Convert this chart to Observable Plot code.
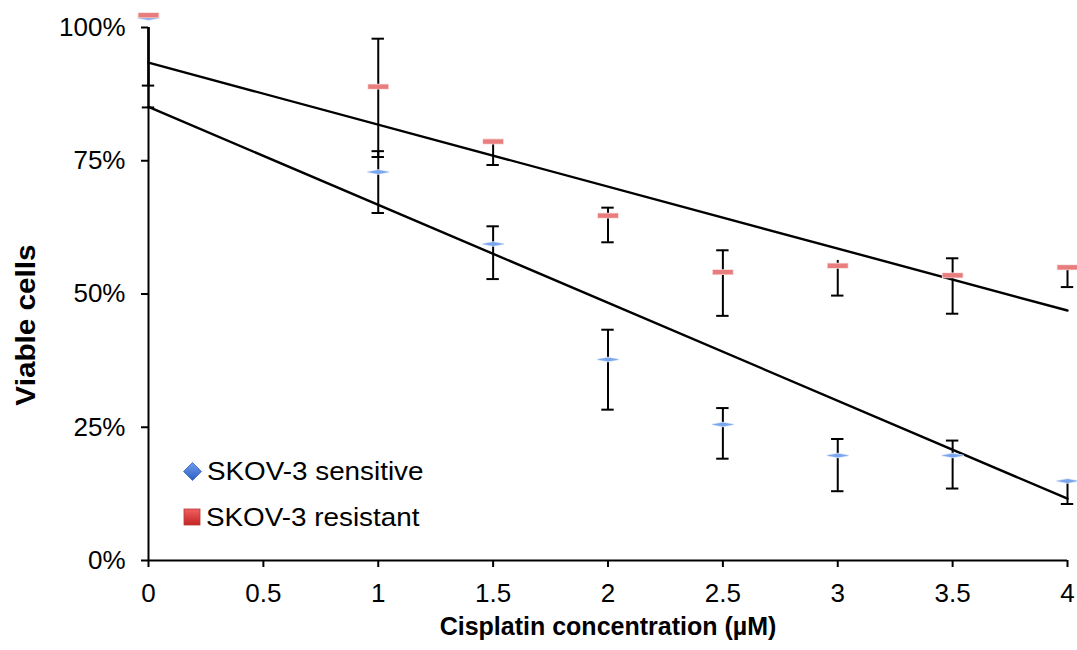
<!DOCTYPE html>
<html>
<head>
<meta charset="utf-8">
<script src="https://cdn.jsdelivr.net/npm/d3@7"></script>
<script src="https://cdn.jsdelivr.net/npm/@observablehq/plot@0.6"></script>
<style>
  body { margin: 0; background: #fff; }
  #wrap { position: relative; width: 1077px; height: 650px; font-family: "Liberation Sans", Arial, sans-serif; }
  #legend { position: absolute; left: 183px; top: 448px; font-size: 26px; color: #000; }
  #legend .row { display: flex; align-items: center; height: 46px; }
  #legend svg { margin-right: 5px; }
  #legend span { display: inline-block; transform: scaleX(1.07); transform-origin: left center; }
  #ylab { position: absolute; left: 26px; top: 325px; transform: translate(-50%, -50%) rotate(-90deg) scale(1.1, 1); font-weight: bold; font-size: 27px; white-space: nowrap; }
</style>
</head>
<body>
<div id="wrap">
  <div id="chart"></div>
  <div id="ylab">Viable cells</div>
  <div id="legend">
    <div class="row"><svg width="19" height="19" viewBox="0 0 18 18"><defs><linearGradient id="gb" x1="0" y1="0" x2="0" y2="1"><stop offset="0" stop-color="#6d9cf0"/><stop offset="1" stop-color="#2f5fbf"/></linearGradient></defs><path d="M9 0.5 L17.5 9 L9 17.5 L0.5 9 Z" fill="url(#gb)" stroke="#3a66b8" stroke-width="0.8"/></svg><span>SKOV-3 sensitive</span></div>
    <div class="row"><svg width="18" height="18" viewBox="0 0 18 18"><defs><linearGradient id="gr" x1="0" y1="0" x2="0" y2="1"><stop offset="0" stop-color="#f06060"/><stop offset="1" stop-color="#c42424"/></linearGradient></defs><rect x="1" y="1" width="16" height="16" fill="url(#gr)" stroke="#b83a3a" stroke-width="0.8"/></svg><span>SKOV-3 resistant</span></div>
  </div>
</div>
<script>
// Data
const concentrations = [0, 1, 1.5, 2, 2.5, 3, 3.5, 4];
const sensitive   = [1.018, 0.729, 0.594, 0.377, 0.255, 0.197, 0.197, 0.149];
const sensitiveLo = [0.891, 0.652, 0.528, 0.283, 0.191, 0.130, 0.135, 0.106];
const sensitiveHi = [1.000, 0.768, 0.627, 0.433, 0.286, 0.228, 0.225, 0.152];
const resistant   = [1.023, 0.889, 0.786, 0.647, 0.541, 0.553, 0.535, 0.550];
const resistantLo = [0.850, 0.757, 0.742, 0.597, 0.459, 0.497, 0.463, 0.513];
const resistantHi = [1.000, 0.979, 0.790, 0.662, 0.582, 0.563, 0.567, 0.553];
// Linear trend lines (end points)
const trendX = [0, 4];
const sensitiveTrend = [0.851, 0.116];
const resistantTrend = [0.934, 0.469];
const yTicks = [0, 0.25, 0.5, 0.75, 1];
const xTicks = [0, 0.5, 1, 1.5, 2, 2.5, 3, 3.5, 4];

const rows = [];
concentrations.forEach((c, i) => {
  rows.push({series: "sensitive", x: c, y: sensitive[i], lo: sensitiveLo[i], hi: sensitiveHi[i]});
  rows.push({series: "resistant", x: c, y: resistant[i], lo: resistantLo[i], hi: resistantHi[i]});
});
const trend = [];
trendX.forEach((x, i) => {
  trend.push({series: "sensitive", x, y: sensitiveTrend[i]});
  trend.push({series: "resistant", x, y: resistantTrend[i]});
});

// custom flattened marker symbols
const flatRect = { draw(ctx, size) { const w = 10, h = 2.2; ctx.moveTo(-w, -h); ctx.lineTo(w, -h); ctx.lineTo(w, h); ctx.lineTo(-w, h); ctx.closePath(); } };
const flatDiamond = { draw(ctx, size) { const w = 11, h = 2; ctx.moveTo(-w, 0); ctx.lineTo(0, -h); ctx.lineTo(w, 0); ctx.lineTo(0, h); ctx.closePath(); } };

const capW = 0.027;
const plot = Plot.plot({
  width: 1077,
  height: 650,
  marginLeft: 148,
  marginRight: 10,
  marginTop: 27,
  marginBottom: 90,
  style: { fontFamily: "'Liberation Sans', Arial, sans-serif", fontSize: "26px", color: "#000", background: "#fff", overflow: "visible" },
  x: { domain: [0, 4] },
  y: { domain: [0, 1] },
  marks: [
    Plot.axisY({ ticks: yTicks, tickFormat: d3.format(".0%"), tickSize: 7, tickPadding: 16, label: null, strokeWidth: 2, fontSize: 26 }),
    Plot.axisX({ ticks: xTicks, tickFormat: d => String(d), tickSize: 7, tickPadding: 16, label: null, strokeWidth: 2, fontSize: 26 }),
    Plot.ruleX([0], { y1: 0, y2: 1, stroke: "#000", strokeWidth: 2 }),
    Plot.ruleY([0], { x1: 0, x2: 4, stroke: "#000", strokeWidth: 2 }),
    Plot.line(trend, { x: "x", y: "y", z: "series", stroke: "#000", strokeWidth: 2.4 }),
    Plot.ruleX(rows, { x: "x", y1: "lo", y2: "hi", stroke: "#000", strokeWidth: 2 }),
    Plot.ruleY(rows, { y: "lo", x1: d => d.x - capW, x2: d => d.x + capW, stroke: "#000", strokeWidth: 2 }),
    Plot.ruleY(rows.filter(d => d.hi > d.y + 0.01), { y: "hi", x1: d => d.x - capW, x2: d => d.x + capW, stroke: "#000", strokeWidth: 2 }),
    Plot.dot(rows.filter(d => d.series === "sensitive"), { x: "x", y: "y", symbol: flatDiamond, fill: "#7aa7ec", stroke: "#dbe7fa", strokeWidth: 1.5, paintOrder: "stroke" }),
    Plot.dot(rows.filter(d => d.series === "resistant"), { x: "x", y: "y", symbol: flatRect, fill: "#e97c7c", stroke: "#f6dada", strokeWidth: 1.5, paintOrder: "stroke" }),
    Plot.text(["Cisplatin concentration (µM)"], { frameAnchor: "bottom", dy: 74, fontWeight: "bold", fontSize: 25, text: d => d })
  ]
});
document.getElementById("chart").appendChild(plot);
</script>
</body>
</html>
